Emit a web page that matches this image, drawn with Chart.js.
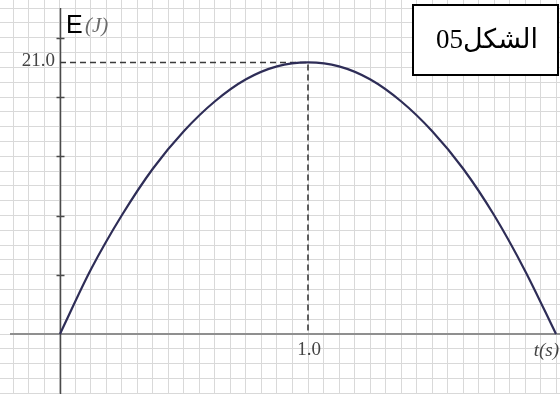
<!DOCTYPE html>
<html>
<head>
<meta charset="utf-8">
<script src="https://cdn.jsdelivr.net/npm/chart.js@4"></script>
<style>
  html, body { margin: 0; padding: 0; background: #ffffff; }
  canvas { display: block; }
</style>
</head>
<body>
<canvas id="c" width="560" height="394"></canvas>
<script>
// ---- data ----
const timeValues   = [0, 0.125, 0.25, 0.375, 0.5, 0.625, 0.75, 0.875, 1.0, 1.125, 1.25, 1.375, 1.5, 1.625, 1.75, 1.875, 2.0];
const energyValues = [0, 5.0, 9.2, 12.8, 15.7, 18.0, 19.7, 20.7, 21.0, 20.7, 19.7, 18.0, 15.7, 12.8, 9.2, 4.9, 0];
const peakTime = 1.0;
const peakEnergy = 21.0;
const xTickLabel = "1.0";
const yTickLabel = "21.0";
const xAxisTitle = "t(s)";
const yAxisLetter = "E";
const yAxisUnit = "(J)";
const figureLabel = "الشكل05";

// ---- axis ranges & grid spacing ----
const X_MIN = -0.2419, X_MAX = 2.0161;
const Y_MIN = -4.64,   Y_MAX = 25.83;
const X_GRID = 0.0625;
const Y_GRID = 1.1455;

const curvePoints = timeValues.map((t, i) => ({ x: t, y: energyValues[i] }));
const guidePoints = [{ x: 0, y: peakEnergy }, { x: peakTime, y: peakEnergy }, { x: peakTime, y: 0 }];

function gridTicks(min, max, step) {
  const out = [];
  const k0 = Math.ceil(min / step), k1 = Math.floor(max / step);
  for (let k = k0; k <= k1; k++) out.push({ value: +(k * step).toFixed(6), k });
  return out;
}

const overlay = {
  id: 'overlay',
  beforeDraw(chart) {
    const ctx = chart.ctx;
    ctx.save();
    ctx.fillStyle = '#ffffff';
    ctx.fillRect(0, 0, chart.width, chart.height);
    ctx.restore();
  },
  beforeDatasetsDraw(chart) {
    const ctx = chart.ctx, xs = chart.scales.x, ys = chart.scales.y;
    const x0 = Math.round(xs.getPixelForValue(0)) + 0.5;
    const y0 = Math.round(ys.getPixelForValue(0));
    ctx.save();
    // horizontal axis
    ctx.strokeStyle = '#8f8f8f';
    ctx.lineWidth = 2;
    ctx.beginPath(); ctx.moveTo(10, y0); ctx.lineTo(chart.width, y0); ctx.stroke();
    // vertical axis
    ctx.strokeStyle = '#4a4a4a';
    ctx.lineWidth = 1.5;
    ctx.beginPath(); ctx.moveTo(x0, 8); ctx.lineTo(x0, chart.height); ctx.stroke();
    // major tick marks on the vertical axis
    ctx.lineWidth = 1.5;
    gridTicks(0, Y_MAX, Y_GRID).forEach(t => {
      if (t.k > 0 && t.k % 4 === 0) {
        const y = Math.round(ys.getPixelForValue(t.value)) + 0.5;
        ctx.beginPath(); ctx.moveTo(x0 - 4, y); ctx.lineTo(x0 + 4, y); ctx.stroke();
      }
    });
    ctx.restore();
  },
  afterDraw(chart) {
    const ctx = chart.ctx, xs = chart.scales.x, ys = chart.scales.y;
    const x0 = xs.getPixelForValue(0);
    const y0 = ys.getPixelForValue(0);
    ctx.save();
    // tick labels
    ctx.fillStyle = '#444444';
    ctx.font = '19px "Liberation Serif", serif';
    ctx.textBaseline = 'middle';
    ctx.textAlign = 'right';
    ctx.fillText(yTickLabel, x0 - 5, ys.getPixelForValue(peakEnergy) - 1);
    ctx.textAlign = 'center';
    ctx.fillText(xTickLabel, xs.getPixelForValue(peakTime) + 1, y0 + 16);
    // axis titles
    ctx.font = 'italic 19px "Liberation Serif", serif';
    ctx.textAlign = 'right';
    ctx.fillText(xAxisTitle, chart.width - 1, y0 + 17);
    ctx.fillStyle = '#000000';
    ctx.font = '25px "Liberation Sans", sans-serif';
    ctx.textAlign = 'left';
    ctx.textBaseline = 'alphabetic';
    ctx.fillText(yAxisLetter, x0 + 6, 33);
    ctx.fillStyle = '#6a6a6a';
    ctx.font = 'italic 21px "Liberation Serif", serif';
    ctx.fillText(yAxisUnit, x0 + 25, 32);
    // figure label box
    ctx.fillStyle = '#ffffff';
    ctx.fillRect(413, 5, 145, 70);
    ctx.strokeStyle = '#000000';
    ctx.lineWidth = 2;
    ctx.strokeRect(413, 5, 145, 70);
    ctx.fillStyle = '#000000';
    ctx.font = '27px "Liberation Serif", "DejaVu Sans", serif';
    ctx.direction = 'rtl';
    ctx.textAlign = 'center';
    ctx.textBaseline = 'middle';
    ctx.fillText(figureLabel, 487, 41);
    ctx.restore();
  }
};

new Chart(document.getElementById('c'), {
  type: 'line',
  data: {
    datasets: [
      {
        data: curvePoints,
        borderColor: '#2e2d57',
        borderWidth: 2.2,
        pointRadius: 0,
        fill: false,
        cubicInterpolationMode: 'monotone',
        order: 0
      },
      {
        data: guidePoints,
        borderColor: '#3a3a3a',
        borderWidth: 1.6,
        borderDash: [6, 4],
        pointRadius: 0,
        fill: false,
        tension: 0,
        order: 1
      }
    ]
  },
  options: {
    responsive: false,
    animation: false,
    events: [],
    layout: { padding: 0 },
    plugins: { legend: { display: false }, tooltip: { enabled: false }, title: { display: false } },
    scales: {
      x: {
        type: 'linear',
        min: X_MIN, max: X_MAX,
        afterBuildTicks: s => { s.ticks = gridTicks(X_MIN, X_MAX, X_GRID).map(t => ({ value: t.value })); },
        ticks: { display: false },
        grid: { color: '#d9d9d9', lineWidth: 1, drawTicks: false },
        border: { display: false }
      },
      y: {
        type: 'linear',
        min: Y_MIN, max: Y_MAX,
        afterBuildTicks: s => { s.ticks = gridTicks(Y_MIN, Y_MAX, Y_GRID).map(t => ({ value: t.value })); },
        ticks: { display: false },
        grid: { color: '#d9d9d9', lineWidth: 1, drawTicks: false },
        border: { display: false }
      }
    }
  },
  plugins: [overlay]
});
</script>
</body>
</html>
